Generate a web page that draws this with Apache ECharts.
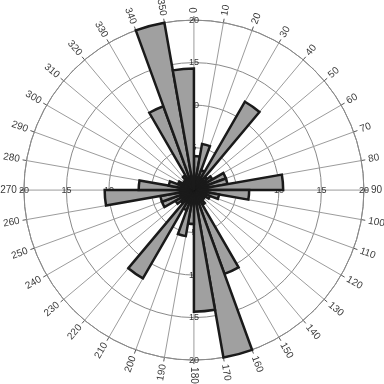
<!DOCTYPE html>
<html>
<head>
<meta charset="utf-8">
<script src="https://cdn.jsdelivr.net/npm/echarts@6/dist/echarts.min.js"></script>
<style>
html, body { margin: 0; padding: 0; background: #fff; }
#rose { width: 384px; height: 384px; }
</style>
</head>
<body>
<div id="rose"></div>
<script>
// 10 degree bins (bin start, compass degrees)
var binStarts = ['0', '10', '20', '30', '40', '50', '60', '70', '80', '90', '100', '110',
  '120', '130', '140', '150', '160', '170', '180', '190', '200', '210', '220', '230',
  '240', '250', '260', '270', '280', '290', '300', '310', '320', '330', '340', '350']
// bar length per bin
var counts = [4, 5.5, 2.5, 12, 2, 2.5, 4, 4, 10.5, 6.5, 3, 2, 1.5, 1.5, 2, 10.5, 20, 14.3,
  4, 5.5, 2.5, 12, 2, 2.5, 4, 4, 10.5, 6.5, 3, 2, 1.5, 1.5, 2, 10.5, 20, 14.3]
// angle labels round the outer ring
var angleTicks = [0, 10, 20, 30, 40, 50, 60, 70, 80, 90, 100, 110, 120, 130, 140, 150, 160, 170,
  180, 190, 200, 210, 220, 230, 240, 250, 260, 270, 280, 290, 300, 310, 320, 330, 340, 350]
// ring labels, written on the four main spokes
var ringTicks = [5, 10, 15, 20]
var ringSpokes = [0, 90, 180, 270]

var RMAX = 20
var center = ['50.5%', '49.5%']

function angleLabel (t) {
  // text runs along the spoke, kept readable
  if (t <= 180) {
    return { rotate: 90 - t, align: 'left', offset: [7, 0] }
  }
  return { rotate: 270 - t, align: 'right', offset: [-7, 0] }
}

var ringData = []
ringSpokes.forEach(function (a) {
  ringTicks.forEach(function (r) {
    ringData.push({ value: [r, a] })
  })
})

var angleData = angleTicks.map(function (t) {
  var l = angleLabel(t)
  return {
    value: [RMAX, t],
    label: { rotate: l.rotate, align: l.align, offset: l.offset }
  }
})

var chart = echarts.init(document.getElementById('rose'))
var option = {
  animation: false,
  backgroundColor: '#fff',
  polar: [
    { center: center, radius: 170 },
    { center: center, radius: 170 }
  ],
  angleAxis: [
    {
      polarIndex: 0,
      type: 'category',
      data: binStarts,
      startAngle: 90,
      clockwise: true,
      axisLine: { show: false },
      axisTick: { show: false },
      axisLabel: { show: false },
      splitLine: { show: false }
    },
    {
      polarIndex: 1,
      type: 'value',
      min: 0,
      max: 360,
      interval: 10,
      startAngle: 90,
      clockwise: true,
      axisLine: { show: true, lineStyle: { color: '#8a8a8a', width: 1 } },
      axisTick: { show: true, length: 4, lineStyle: { color: '#555', width: 1 } },
      axisLabel: { show: false },
      splitLine: { show: true, lineStyle: { color: '#9c9c9c', width: 1 } }
    }
  ],
  radiusAxis: [
    {
      polarIndex: 0,
      type: 'value',
      min: 0,
      max: RMAX,
      axisLine: { show: false },
      axisTick: { show: false },
      axisLabel: { show: false },
      splitLine: { show: false }
    },
    {
      polarIndex: 1,
      type: 'value',
      min: 0,
      max: RMAX,
      interval: 5,
      axisLine: { show: false },
      axisTick: { show: false },
      axisLabel: { show: false },
      splitLine: { show: true, lineStyle: { color: '#8a8a8a', width: 1 } }
    }
  ],
  series: [
    {
      // ring numbers sit under the bars
      type: 'scatter',
      coordinateSystem: 'polar',
      polarIndex: 1,
      z: 1,
      clip: false,
      silent: true,
      symbolSize: 1,
      itemStyle: { color: 'rgba(0,0,0,0)' },
      data: ringData,
      label: {
        show: true,
        position: 'inside',
        formatter: function (p) { return p.value[0] },
        fontFamily: 'Liberation Sans, Arial, sans-serif',
        fontSize: 9,
        color: '#000'
      }
    },
    {
      type: 'bar',
      coordinateSystem: 'polar',
      polarIndex: 0,
      z: 3,
      data: counts,
      barCategoryGap: '0%',
      itemStyle: { color: '#a0a0a0', borderColor: '#1a1a1a', borderWidth: 2.5 }
    },
    {
      type: 'scatter',
      coordinateSystem: 'polar',
      polarIndex: 1,
      z: 4,
      clip: false,
      silent: true,
      symbolSize: 1,
      itemStyle: { color: 'rgba(0,0,0,0)' },
      data: angleData,
      label: {
        show: true,
        position: 'inside',
        verticalAlign: 'middle',
        formatter: function (p) { return p.value[1] },
        fontFamily: 'Liberation Sans, Arial, sans-serif',
        fontSize: 10,
        color: '#000'
      }
    }
  ]
}
chart.setOption(option)
</script>
</body>
</html>
